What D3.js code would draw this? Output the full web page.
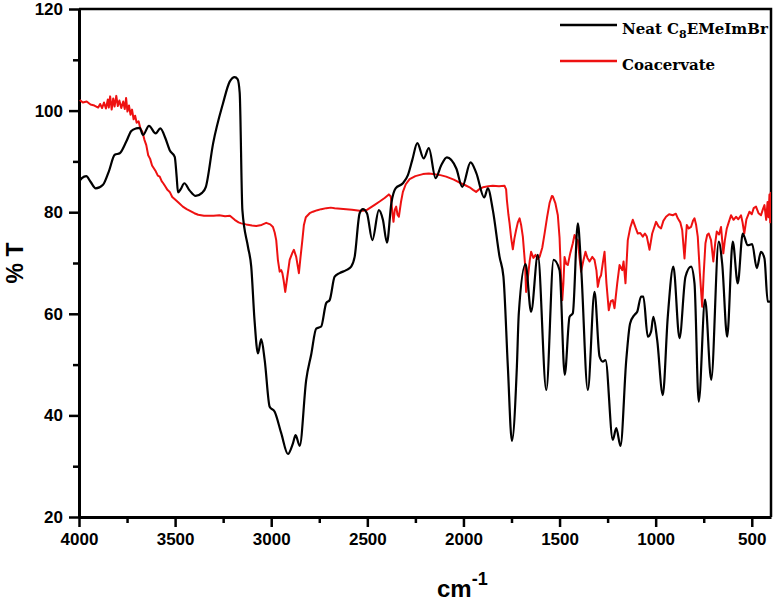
<!DOCTYPE html>
<html>
<head>
<meta charset="utf-8">
<script src="https://cdn.jsdelivr.net/npm/d3@7"></script>
<style>
  body { margin: 0; background: #fff; }
  #ftir_chart { width: 773px; height: 604px; }
  .tick text { font-family: "Liberation Sans", Arial, sans-serif; font-weight: bold; }
</style>
</head>
<body>
<div id="ftir_chart"></div>
<script>
// [wavenumber cm-1, %T]
const neat = [
  [4000, 86.0], [3985, 86.7], [3962, 87.1], [3940, 86.0], [3913, 84.7], [3875, 85.4],
  [3845, 88.0], [3814, 91.3], [3788, 91.6], [3754, 93.9], [3728, 96.0], [3702, 96.5],
  [3684, 96.6], [3667, 95.2], [3636, 97.0], [3601, 95.5], [3577, 96.5], [3550, 94.5],
  [3528, 92.2], [3502, 90.9], [3492, 87.0], [3485, 83.9], [3470, 84.6], [3452, 85.7],
  [3425, 84.3], [3393, 83.2], [3360, 83.8], [3340, 85.0], [3302, 93.6], [3251, 101.4],
  [3216, 105.7], [3190, 106.6], [3175, 106.2], [3164, 103.5], [3150, 80.4], [3121, 73.2],
  [3104, 69.3], [3087, 58.8], [3069, 52.2], [3052, 55.0], [3034, 50.9], [3008, 41.7],
  [2982, 40.7], [2948, 36.5], [2913, 32.4], [2887, 34.5], [2873, 36.1], [2852, 34.0],
  [2818, 47.0], [2792, 52.0], [2766, 57.1], [2752, 57.3], [2740, 57.5], [2714, 62.1],
  [2696, 62.7], [2670, 67.3], [2644, 68.0], [2610, 68.6], [2584, 69.3], [2566, 71.2],
  [2540, 79.8], [2523, 80.6], [2502, 79.8], [2474, 74.5], [2440, 80.4], [2419, 78.5],
  [2398, 74.0], [2375, 81.8], [2353, 84.7], [2315, 85.7], [2289, 87.3], [2266, 90.3],
  [2240, 93.6], [2207, 90.6], [2180, 92.6], [2145, 86.7], [2115, 89.3], [2086, 90.8],
  [2037, 88.6], [2006, 85.0], [1963, 89.8], [1933, 87.7], [1892, 82.9], [1873, 84.7],
  [1847, 80.4], [1812, 71.2], [1792, 67.3], [1769, 49.6], [1748, 35.0], [1722, 49.6],
  [1712, 60.1], [1677, 69.8], [1648, 60.4], [1613, 71.6], [1569, 45.0], [1531, 70.6],
  [1500, 68.6], [1473, 48.0], [1448, 59.4], [1431, 60.1], [1405, 77.8], [1388, 69.3],
  [1353, 45.0], [1318, 64.3], [1292, 51.6], [1275, 50.6], [1261, 50.9], [1223, 35.2],
  [1205, 37.5], [1183, 34.0], [1153, 50.9], [1133, 58.1], [1110, 59.8], [1096, 60.4],
  [1076, 63.4], [1064, 63.4], [1041, 55.5], [1024, 56.5], [1012, 59.4], [992, 54.8],
  [963, 44.0], [937, 59.4], [908, 69.3], [876, 55.2], [845, 67.3], [816, 69.3],
  [798, 66.0], [776, 42.7], [743, 62.8], [711, 47.0], [672, 74.2], [654, 69.9],
  [628, 55.5], [599, 74.2], [573, 66.0], [547, 75.8], [521, 73.5], [498, 73.7],
  [474, 69.0], [452, 72.2], [434, 70.9], [417, 62.4], [400, 62.4]
];

const coacervate = [
  [3996, 102.1], [3980, 101.6], [3960, 101.8], [3940, 101.2], [3920, 101.0], [3900, 100.6],
  [3890, 101.3], [3880, 100.5], [3870, 101.6], [3860, 100.4], [3850, 102.2], [3845, 100.6],
  [3838, 102.8], [3830, 100.2], [3822, 102.4], [3815, 100.8], [3806, 102.9], [3798, 100.9],
  [3790, 102.0], [3780, 100.5], [3770, 101.8], [3762, 100.3], [3755, 102.5], [3748, 99.8],
  [3740, 101.0], [3732, 99.2], [3724, 100.2], [3716, 98.3], [3708, 99.0], [3700, 97.6],
  [3690, 97.9], [3680, 96.4], [3670, 95.8], [3660, 94.3], [3650, 93.2], [3640, 91.2],
  [3630, 90.5], [3620, 89.2], [3610, 88.6], [3600, 88.0], [3590, 87.2], [3580, 87.0],
  [3570, 86.1], [3560, 85.6], [3550, 85.0], [3540, 84.4], [3528, 84.0], [3515, 83.0],
  [3500, 82.5], [3480, 81.8], [3460, 81.1], [3440, 80.6], [3420, 80.2], [3400, 79.8],
  [3380, 79.5], [3350, 79.3], [3300, 79.3], [3270, 79.4], [3240, 79.2], [3215, 79.3],
  [3190, 78.5], [3170, 78.0], [3156, 77.8], [3130, 77.6], [3100, 77.4], [3078, 77.3],
  [3050, 77.5], [3026, 77.9], [3005, 77.6], [2991, 77.1], [2982, 76.0], [2974, 74.5],
  [2965, 70.5], [2956, 68.3], [2948, 68.6], [2942, 68.0], [2935, 66.5], [2927, 64.3],
  [2918, 66.8], [2904, 70.6], [2890, 72.0], [2882, 72.6], [2870, 71.2], [2856, 68.0],
  [2848, 71.0], [2838, 74.5], [2830, 77.5], [2820, 79.0], [2800, 79.8], [2783, 80.1],
  [2760, 80.4], [2740, 80.6], [2713, 80.8], [2690, 80.9], [2670, 80.8], [2640, 80.7],
  [2610, 80.6], [2580, 80.5], [2540, 80.3], [2523, 80.3], [2500, 80.5], [2488, 80.8],
  [2460, 81.5], [2436, 82.1], [2410, 82.8], [2388, 83.5], [2378, 83.1], [2370, 80.0],
  [2364, 78.1], [2357, 80.5], [2350, 81.1], [2343, 79.5], [2336, 79.1], [2325, 82.0],
  [2315, 84.0], [2300, 85.5], [2280, 86.5], [2250, 87.1], [2211, 87.5], [2180, 87.6],
  [2159, 87.5], [2120, 87.3], [2090, 87.0], [2050, 86.4], [2020, 85.8], [1990, 85.3],
  [1968, 84.9], [1950, 84.4], [1934, 84.0], [1915, 84.6], [1899, 84.9], [1870, 85.1],
  [1847, 85.2], [1815, 85.1], [1786, 85.2], [1778, 84.5], [1774, 82.4], [1766, 79.5],
  [1760, 77.8], [1752, 75.0], [1743, 72.7], [1735, 74.8], [1726, 76.5], [1717, 78.0],
  [1708, 78.8], [1700, 77.5], [1691, 75.2], [1680, 70.0], [1674, 64.3], [1665, 67.0],
  [1655, 70.5], [1648, 72.2], [1636, 71.0], [1625, 71.6], [1614, 70.8], [1604, 71.2],
  [1590, 73.0], [1578, 75.8], [1565, 79.0], [1552, 81.8], [1540, 83.2], [1535, 83.1],
  [1522, 81.8], [1509, 79.4], [1500, 75.0], [1492, 67.0], [1486, 62.7], [1480, 66.0],
  [1474, 71.2], [1465, 69.8], [1457, 69.6], [1445, 71.8], [1431, 73.9], [1422, 75.5],
  [1410, 74.6], [1405, 74.5], [1396, 71.0], [1388, 68.3], [1376, 70.5], [1365, 72.2],
  [1355, 71.0], [1344, 70.3], [1330, 71.2], [1318, 70.6], [1308, 68.5], [1301, 65.3],
  [1292, 67.0], [1284, 67.6], [1275, 70.0], [1266, 72.2], [1256, 66.0], [1244, 60.7],
  [1233, 62.5], [1223, 62.7], [1214, 61.1], [1200, 66.0], [1188, 69.6], [1174, 68.6],
  [1167, 70.3], [1157, 66.0], [1145, 74.5], [1132, 77.0], [1119, 78.5], [1105, 77.0],
  [1093, 75.8], [1080, 75.9], [1067, 75.2], [1056, 75.8], [1046, 75.2], [1032, 72.6],
  [1018, 75.8], [998, 78.1], [985, 77.2], [972, 76.8], [960, 78.3], [946, 79.1],
  [930, 79.6], [911, 79.4], [895, 79.7], [885, 78.8], [872, 78.0], [862, 76.5],
  [850, 70.9], [838, 77.5], [828, 76.8], [816, 77.1], [806, 78.3], [798, 78.8],
  [790, 77.6], [781, 75.2], [770, 68.0], [758, 61.4], [750, 68.0], [741, 73.9],
  [732, 75.5], [724, 75.8], [712, 74.5], [700, 70.3], [690, 74.0], [682, 76.2],
  [670, 75.6], [660, 77.1], [648, 71.9], [640, 74.5], [630, 76.8], [620, 78.0],
  [608, 79.4], [595, 78.5], [582, 79.1], [570, 78.6], [556, 79.4], [548, 78.0],
  [539, 75.8], [528, 78.6], [512, 80.1], [500, 79.6], [490, 80.8], [478, 81.1],
  [465, 79.8], [452, 79.4], [442, 80.6], [434, 81.4], [425, 78.5], [418, 82.0],
  [413, 79.0], [408, 83.5], [404, 78.0], [401, 84.0]
];

const xTicks = [4000, 3500, 3000, 2500, 2000, 1500, 1000, 500];
const xMinorTicks = [3750, 3250, 2750, 2250, 1750, 1250, 750];
const yTicks = [20, 40, 60, 80, 100, 120];
const yMinorTicks = [30, 50, 70, 90, 110];

const seriesNames = ['Neat C', 'Coacervate'];
const seriesColors = ['#000000', '#ee1111'];

const margin = { top: 9, right: 2, bottom: 87, left: 79 },
  width = 773 - margin.left - margin.right,
  height = 604 - margin.top - margin.bottom;

//scales and axes
const xScale = d3.scaleLinear()
  .domain([4000, 400])
  .range([0, width]);

const yScale = d3.scaleLinear()
  .domain([20, 120])
  .range([height, 0]);

let svg = d3.select('#ftir_chart')
  .append('svg')
  .attr('width', 773)
  .attr('height', 604)
  .append('g')
  .attr('transform', 'translate(' + margin.left + ',' + margin.top + ')');

//frame on top and right
svg.append('path')
  .attr('d', `M0,0H${width}V${height}`)
  .attr('fill', 'none')
  .attr('stroke', '#000')
  .attr('stroke-width', 2.5);

//minor ticks first so the major axis draws over them
svg.append('g')
  .attr('transform', 'translate(0,' + height + ')')
  .call(d3.axisBottom(xScale).tickValues(xMinorTicks).tickSize(6).tickFormat(''))
  .call(g => g.select('.domain').remove())
  .call(g => g.selectAll('line').attr('stroke-width', 2.5));

svg.append('g')
  .call(d3.axisLeft(yScale).tickValues(yMinorTicks).tickSize(6).tickFormat(''))
  .call(g => g.select('.domain').remove())
  .call(g => g.selectAll('line').attr('stroke-width', 2.5));

const xAxis = svg.append('g')
  .attr('class', 'x_axis')
  .attr('transform', 'translate(0,' + height + ')')
  .call(d3.axisBottom(xScale).tickValues(xTicks).tickSize(10).tickSizeOuter(0).tickPadding(6).tickFormat(d3.format('d')));

const yAxis = svg.append('g')
  .attr('class', 'y_axis')
  .call(d3.axisLeft(yScale).tickValues(yTicks).tickSize(10).tickSizeOuter(0).tickPadding(6).tickFormat(d3.format('d')));

[xAxis, yAxis].forEach(ax => {
  ax.select('.domain').attr('stroke-width', 3);
  ax.selectAll('.tick line').attr('stroke-width', 2.5);
  ax.selectAll('.tick text').attr('font-size', 17).attr('fill', '#000');
});

//clip lines to the plot frame
svg.append('clipPath')
  .attr('id', 'plot_clip')
  .append('rect')
  .attr('width', width)
  .attr('height', height);

const lineGenerator = d3.line()
  .x(d => xScale(d[0]))
  .y(d => yScale(d[1]));

svg.append('path')
  .datum(coacervate)
  .attr('clip-path', 'url(#plot_clip)')
  .attr('d', lineGenerator.curve(d3.curveLinear))
  .attr('fill', 'none')
  .attr('stroke', seriesColors[1])
  .attr('stroke-width', 2)
  .attr('stroke-linejoin', 'round');

svg.append('path')
  .datum(neat)
  .attr('clip-path', 'url(#plot_clip)')
  .attr('d', lineGenerator.curve(d3.curveMonotoneX))
  .attr('fill', 'none')
  .attr('stroke', seriesColors[0])
  .attr('stroke-width', 2.2)
  .attr('stroke-linejoin', 'round');

//legend
const legend = svg.append('g')
  .attr('transform', 'translate(481,16)')
  .style('font-family', '"DejaVu Serif", serif')
  .style('font-weight', 'bold')
  .style('font-size', '15px');

seriesColors.forEach((c, i) => {
  legend.append('line')
    .attr('x1', 0).attr('x2', 57)
    .attr('y1', i * 36).attr('y2', i * 36)
    .attr('stroke', c)
    .attr('stroke-width', 2.5);
});

const neatLabel = legend.append('text').attr('x', 62).attr('y', 9);
neatLabel.append('tspan').text('Neat C');
neatLabel.append('tspan').attr('dy', 4).style('font-size', '11px').text('8');
neatLabel.append('tspan').attr('dy', -4).text('EMeImBr');

legend.append('text')
  .attr('x', 62).attr('y', 45)
  .text(seriesNames[1]);

//axis titles
const xTitle = svg.append('text')
  .attr('x', 358)
  .attr('y', height + 80)
  .style('font-family', '"Liberation Sans", Arial, sans-serif')
  .style('font-weight', 'bold')
  .style('font-size', '24px');
xTitle.append('tspan').text('cm');
xTitle.append('tspan').attr('dy', -12).style('font-size', '18px').text('-1');

svg.append('text')
  .attr('transform', 'translate(' + (-56) + ',' + (height / 2) + ') rotate(-90)')
  .attr('text-anchor', 'middle')
  .style('font-family', '"Liberation Sans", Arial, sans-serif')
  .style('font-weight', 'bold')
  .style('font-size', '23px')
  .text('% T');
</script>
</body>
</html>
